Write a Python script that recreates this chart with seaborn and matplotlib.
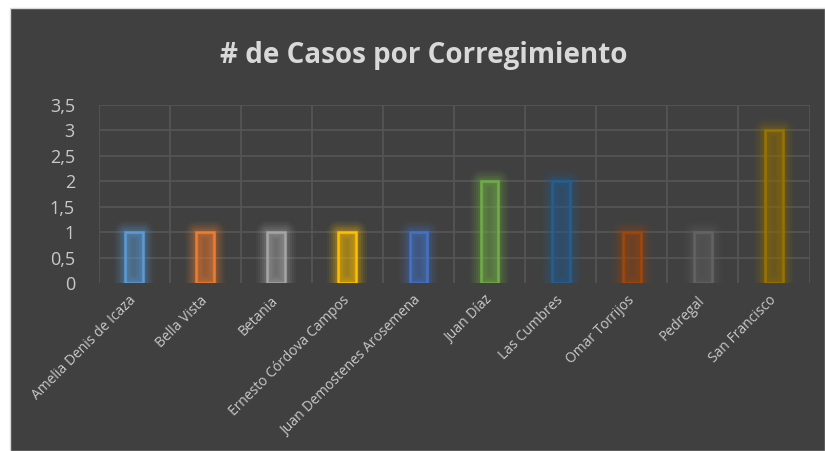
import numpy as np
import pandas as pd
import matplotlib
matplotlib.use("Agg")
import matplotlib.pyplot as plt
import matplotlib.patheffects as pe
from matplotlib.colors import to_rgba
from matplotlib.patches import Rectangle
import seaborn as sns

corregimientos = ["Amelia Denis de Icaza", "Bella Vista", "Betania", "Ernesto Córdova Campos",
                  "Juan Demostenes Arosemena", "Juan Díaz", "Las Cumbres", "Omar Torrijos",
                  "Pedregal", "San Francisco"]
casos = [1, 1, 1, 1, 1, 2, 2, 1, 1, 3]
colores = ["#5B9BD5", "#ED7D31", "#A5A5A5", "#FFC000", "#4472C4",
           "#70AD47", "#255E91", "#9E480E", "#636363", "#997300"]
y_ticks = [0, 0.5, 1, 1.5, 2, 2.5, 3, 3.5]
y_labels = ["0", "0,5", "1", "1,5", "2", "2,5", "3", "3,5"]

df = pd.DataFrame({"Corregimiento": corregimientos, "Casos": casos})

sns.set_theme(style="dark")
plt.rcParams["font.family"] = ["Open Sans", "DejaVu Sans"]

bg = "#404040"
txt = "#c8c8c8"
grid = "#555555"

fig = plt.figure(figsize=(8.25, 4.51), dpi=100)
fig.patch.set_facecolor("white")
fig.patches.append(Rectangle((10 / 825, 0), 815 / 825, 443 / 451, transform=fig.transFigure,
                             facecolor=bg, edgecolor="#d9d9d9", lw=1, zorder=-10))

ax = fig.add_axes([98.5 / 825, 168 / 451, 711 / 825, 178 / 451])
ax.set_facecolor("none")

sns.barplot(data=df, x="Corregimiento", y="Casos", hue="Corregimiento", palette=colores,
            width=0.25, legend=False, ax=ax, zorder=3)

# outline bars with a soft glow
for cont, c in zip(ax.containers, colores):
    for patch in cont:
        patch.set_facecolor(to_rgba(c, 0.05))
        patch.set_edgecolor(c)
        patch.set_linewidth(1.8)
        glow = [pe.Stroke(linewidth=w, foreground=c, alpha=a, joinstyle="round")
                for w, a in [(16, 0.05), (13, 0.07), (10, 0.09), (7, 0.12), (4, 0.15)]]
        patch.set_path_effects(glow + [pe.Normal()])

ax.set_xlim(-0.5, len(corregimientos) - 0.5)
ax.set_ylim(0, 3.5)
ax.set_yticks(y_ticks)
ax.set_yticklabels(y_labels)
ax.set_xticks(np.arange(-0.5, len(corregimientos)), minor=True)
ax.grid(False)
ax.grid(which="minor", axis="x", color=grid, lw=1.3)
ax.grid(which="major", axis="y", color=grid, lw=1.3)
ax.get_ygridlines()[0].set_visible(False)
ax.set_axisbelow(True)
for s in ax.spines.values():
    s.set_visible(False)

ax.tick_params(axis="y", which="both", length=0, pad=17, labelsize=13, labelcolor=txt)
ax.tick_params(axis="x", which="both", length=0, pad=11, labelsize=10, labelcolor=txt)
plt.setp(ax.get_xticklabels(), rotation=45, ha="right", va="center", rotation_mode="anchor")
ax.set_xlabel("")
ax.set_ylabel("")

fig.text(424 / 825, 1 - 56 / 451, "# de Casos por Corregimiento", ha="center", va="center",
         fontsize=20, fontweight="bold", color="#d9d9d9")

fig.savefig("out.png", dpi=100, facecolor=fig.get_facecolor())
